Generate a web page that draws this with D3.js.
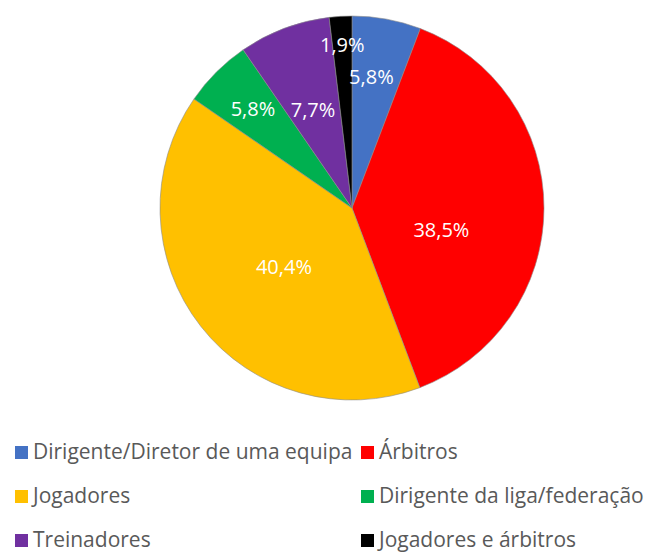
<!DOCTYPE html>
<html>
<head>
<meta charset="utf-8">
<script src="https://d3js.org/d3.v7.min.js"></script>
<style>
  body { margin: 0; background: #fff; }
  text { font-family: "Open Sans", "Noto Sans", sans-serif; }
</style>
</head>
<body>
<div id="chart"></div>
<script>
// data
const categories = ["Dirigente/Diretor de uma equipa", "Árbitros", "Jogadores",
                    "Dirigente da liga/federação", "Treinadores", "Jogadores e árbitros"];
const values = [5.8, 38.5, 40.4, 5.8, 7.7, 1.9];
const colors = ["#4472C4", "#FF0000", "#FFC000", "#00B050", "#7030A0", "#000000"];

// label distance from centre (fraction of radius), like Excel best fit
const labelR = [0.69, 0.48, 0.47, 0.73, 0.55, 0.85];
const labelShift = [-2, 14, -3, 0, -1, 0]; // degrees

const width = 646, height = 552;
const cx = 352, cy = 208, radius = 192;

const svg = d3.select("#chart").append("svg")
  .attr("width", width).attr("height", height);

const g = svg.append("g").attr("transform", `translate(${cx},${cy})`);

const pie = d3.pie().sort(null).value(d => d);
const arcs = pie(values);
const arc = d3.arc().innerRadius(0).outerRadius(radius);

g.selectAll("path")
  .data(arcs)
  .enter().append("path")
  .attr("d", arc)
  .attr("fill", (d, i) => colors[i])
  .attr("stroke", "#8c8c8c")
  .attr("stroke-opacity", 0.6)
  .attr("stroke-width", 1);

g.selectAll("text.lbl")
  .data(arcs)
  .enter().append("text")
  .attr("class", "lbl")
  .attr("transform", (d, i) => {
    const a = (d.startAngle + d.endAngle) / 2 + labelShift[i] * Math.PI / 180;
    const r = radius * labelR[i];
    return `translate(${r * Math.sin(a)},${-r * Math.cos(a)})`;
  })
  .attr("text-anchor", "middle")
  .attr("dy", "0.35em")
  .attr("fill", "#fff")
  .style("font-size", "20px")
  .text(d => String(d.data).replace(".", ",") + "%");

// legend
const legX = [15, 361], legY = [452, 496, 540];
const leg = svg.selectAll("g.leg")
  .data(categories)
  .enter().append("g")
  .attr("class", "leg")
  .attr("transform", (d, i) => `translate(${legX[i % 2]},${legY[Math.floor(i / 2)]})`);

leg.append("rect")
  .attr("x", 0).attr("y", -6)
  .attr("width", 13).attr("height", 13)
  .attr("fill", (d, i) => colors[i]);

leg.append("text")
  .attr("x", 18).attr("dy", "0.35em")
  .attr("fill", "#595959")
  .style("font-size", "21px")
  .text(d => d);
</script>
</body>
</html>
